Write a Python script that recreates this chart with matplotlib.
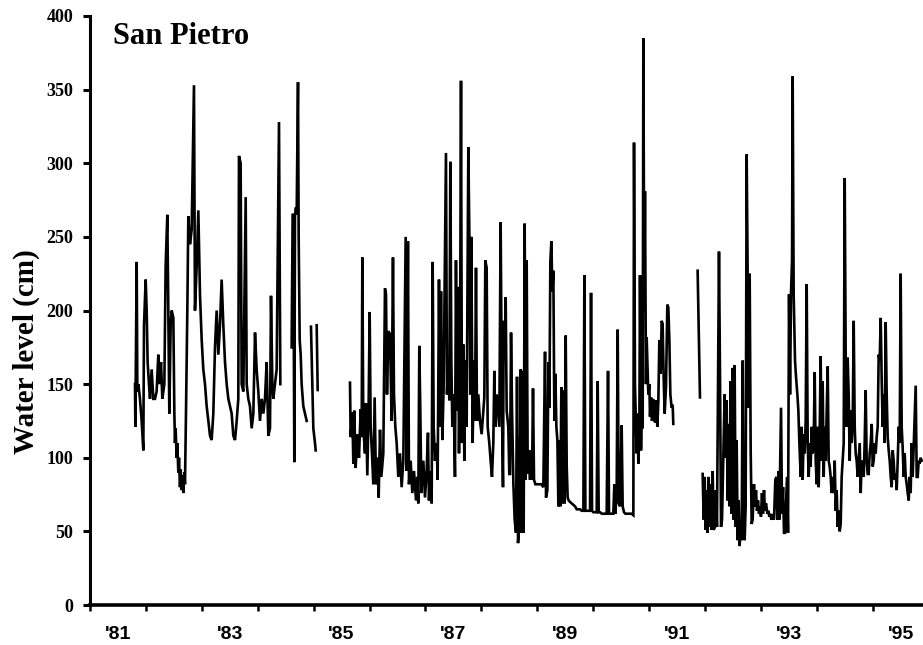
import numpy as np
import matplotlib
matplotlib.use("Agg")
import matplotlib.pyplot as plt
from matplotlib.ticker import FixedLocator, NullFormatter, FixedFormatter

# ---------------- data (decimal year, water level in cm) ----------------
seg1a_t = [1981.305, 1981.311, 1981.335, 1981.347, 1981.365, 1981.394, 1981.424, 1981.454, 1981.466,
           1981.496, 1981.514, 1981.531, 1981.555, 1981.573, 1981.603, 1981.633, 1981.663, 1981.692,
           1981.722, 1981.740, 1981.770, 1981.794, 1981.830, 1981.853, 1981.883, 1981.901, 1981.919,
           1981.943, 1981.961, 1981.991, 1982.009, 1982.020, 1982.032, 1982.050, 1982.062, 1982.080,
           1982.092, 1982.110, 1982.122, 1982.140, 1982.152, 1982.170, 1982.187, 1982.199, 1982.217,
           1982.241, 1982.259, 1982.289, 1982.319, 1982.360, 1982.378, 1982.408, 1982.438, 1982.468,
           1982.498, 1982.527, 1982.557, 1982.587, 1982.617, 1982.647, 1982.676, 1982.706, 1982.736,
           1982.766, 1982.796, 1982.825, 1982.855, 1982.885, 1982.915, 1982.945, 1982.975, 1983.034,
           1983.064, 1983.094, 1983.124, 1983.153, 1983.165, 1983.195, 1983.213, 1983.243, 1983.285,
           1983.303, 1983.332, 1983.362, 1983.392, 1983.422, 1983.452, 1983.481, 1983.511, 1983.541,
           1983.571, 1983.601, 1983.630, 1983.660, 1983.690, 1983.720, 1983.738, 1983.762, 1983.779,
           1983.809, 1983.839, 1983.881, 1983.905]
seg1a_v = [150, 121, 233, 145, 150, 140, 125, 105, 190,
           221, 200, 165, 150, 140, 160, 140, 140, 145,
           170, 150, 165, 140, 150, 230, 265, 200, 130,
           190, 200, 195, 130, 110, 120, 100, 110, 90,
           100, 80, 92, 78, 88, 76, 90, 82, 130,
           200, 264, 245, 255, 353, 200, 230, 268, 210,
           180, 160, 150, 135, 125, 115, 112, 130, 175,
           200, 170, 190, 221, 190, 165, 150, 140, 130,
           115, 112, 125, 140, 305, 300, 150, 145, 277,
           150, 140, 135, 120, 130, 185, 160, 145, 125,
           140, 130, 140, 165, 115, 120, 210, 150, 140,
           150, 160, 328, 150]

seg1b_t = [1984.107, 1984.125, 1984.137, 1984.155, 1984.167, 1984.185, 1984.197, 1984.221, 1984.233,
           1984.251, 1984.269, 1984.286, 1984.316, 1984.346, 1984.376]
seg1b_v = [175, 265, 265, 97, 265, 270, 265, 355, 250,
           180, 170, 150, 135, 130, 125]

seg1c_t = [1984.453, 1984.477, 1984.495, 1984.525, 1984.537]
seg1c_v = [189, 150, 120, 110, 105]

seg1d_t = [1984.555, 1984.573]
seg1d_v = [190, 146]

seg2_t = [1985.151, 1985.163, 1985.193, 1985.211, 1985.228, 1985.252, 1985.282, 1985.312, 1985.342,
          1985.360, 1985.372, 1985.389, 1985.419, 1985.437, 1985.461, 1985.485, 1985.503, 1985.521,
          1985.550, 1985.568, 1985.592, 1985.616, 1985.640, 1985.664, 1985.688, 1985.711, 1985.747,
          1985.777, 1985.795, 1985.813, 1985.837, 1985.866, 1985.896, 1985.920, 1985.938, 1985.962,
          1985.986, 1986.015, 1986.045, 1986.075, 1986.105, 1986.147, 1986.165, 1986.188, 1986.206,
          1986.236, 1986.266, 1986.296, 1986.332, 1986.355, 1986.373, 1986.391, 1986.409, 1986.427,
          1986.463, 1986.493, 1986.522, 1986.546, 1986.564, 1986.588, 1986.612, 1986.630, 1986.648,
          1986.671, 1986.701, 1986.719, 1986.743, 1986.761, 1986.779, 1986.803, 1986.826, 1986.850,
          1986.868, 1986.886, 1986.910, 1986.928, 1986.946, 1986.964, 1986.982, 1987.005, 1987.029,
          1987.047, 1987.065, 1987.083, 1987.101, 1987.119, 1987.137, 1987.154, 1987.178, 1987.196,
          1987.214, 1987.238, 1987.268, 1987.286, 1987.304, 1987.321, 1987.345, 1987.369, 1987.387,
          1987.405, 1987.423, 1987.447, 1987.476, 1987.506, 1987.536, 1987.554, 1987.572, 1987.596,
          1987.614, 1987.643, 1987.667, 1987.691, 1987.715, 1987.733, 1987.751, 1987.775, 1987.798,
          1987.822, 1987.846, 1987.870, 1987.888, 1987.900, 1987.918, 1987.936, 1987.954, 1987.983,
          1988.001,
          1988.014, 1988.032, 1988.050, 1988.074, 1988.097, 1988.121, 1988.139, 1988.157, 1988.181,
          1988.205, 1988.223, 1988.240, 1988.258, 1988.276, 1988.294, 1988.312, 1988.330, 1988.348,
          1988.372, 1988.390, 1988.407, 1988.425, 1988.443, 1988.467, 1988.503, 1988.539, 1988.574,
          1988.610, 1988.640, 1988.658, 1988.682, 1988.700, 1988.718, 1988.735, 1988.753, 1988.771,
          1988.789, 1988.807, 1988.825, 1988.843, 1988.861, 1988.879, 1988.896, 1988.914, 1988.932,
          1988.950, 1988.968, 1988.992, 1989.010, 1989.028, 1989.045, 1989.063, 1989.087, 1989.117,
          1989.147, 1989.177, 1989.206, 1989.236, 1989.266, 1989.296, 1989.326, 1989.344, 1989.362,
          1989.385, 1989.415, 1989.445, 1989.463, 1989.481, 1989.505, 1989.534, 1989.564, 1989.582,
          1989.600, 1989.624, 1989.654, 1989.684, 1989.713, 1989.743, 1989.767, 1989.785, 1989.803,
          1989.833, 1989.862, 1989.880, 1989.898, 1989.922, 1989.940, 1989.958, 1989.982, 1990.011,
          1990.029, 1990.053, 1990.077, 1990.101, 1990.131, 1990.161, 1990.190, 1990.220,
          1990.232, 1990.249, 1990.267, 1990.279, 1990.297, 1990.309, 1990.327, 1990.339, 1990.357,
          1990.375, 1990.387, 1990.399, 1990.416, 1990.428, 1990.446, 1990.458, 1990.476, 1990.488,
          1990.506, 1990.518, 1990.536, 1990.554, 1990.577, 1990.607, 1990.625, 1990.649, 1990.667,
          1990.685, 1990.709, 1990.726, 1990.744, 1990.762, 1990.780, 1990.804, 1990.828, 1990.846,
          1990.864, 1990.882, 1990.905, 1990.923, 1990.935]
seg2_v = [151, 114, 131, 96, 132, 93, 116, 100, 133,
          114, 236, 121, 103, 137, 88, 137, 199, 121,
          98, 82, 141, 82, 100, 73, 119, 87, 103,
          215, 211, 143, 186, 184, 125, 236, 143, 121,
          110, 87, 103, 80, 98, 250, 91, 247, 82,
          98, 76, 91, 71, 87, 69, 176, 132, 76,
          98, 73, 91, 117, 71, 91, 69, 233, 121,
          98, 110, 85, 221, 121, 213, 112, 148, 238,
          307, 143, 166, 139, 301, 166, 121, 143, 87,
          234, 132, 216, 103, 166, 356, 110, 177, 98,
          166, 121, 311, 252, 143, 250, 110, 166, 125,
          229, 125, 143, 125, 116, 132, 141, 234, 229,
          121, 110, 98, 87, 110, 159, 121, 143, 132,
          121, 260, 132, 80, 193, 166, 209, 132, 121,
          89,
          89, 185, 132, 82, 58, 49, 155, 42, 55,
          160, 49, 159, 49, 259, 85, 234, 89, 105,
          85, 105, 85, 147, 85, 82, 82, 82, 82,
          80, 172, 73, 78, 165, 134, 233, 247, 213,
          227, 125, 157, 121, 112, 67, 112, 67, 148,
          69, 146, 69, 183, 94, 73, 71, 70, 69,
          68, 67, 65, 65, 65, 64, 64, 224, 64,
          64, 64, 64, 212, 64, 63, 63, 63, 152,
          63, 63, 62, 62, 62, 62, 159, 62, 62,
          62, 62, 82, 62, 78, 187, 69, 67, 122,
          67, 63, 62, 62, 62, 62, 62, 61,
          314, 150, 120, 103, 130, 96, 115, 224, 105,
          150, 120, 385, 200, 281, 150, 182, 160, 143,
          150, 128, 141, 125, 140, 124, 139, 121, 138,
          180, 157, 193, 191, 155, 130, 148, 204, 202,
          180, 143, 134, 136, 123]

seg3_t = [1991.370, 1991.412]
seg3_v = [227, 141]

seg4_t = [1991.460, 1991.478, 1991.496, 1991.514, 1991.531, 1991.549, 1991.567, 1991.585, 1991.603,
          1991.621, 1991.639, 1991.657, 1991.681, 1991.698, 1991.716, 1991.734, 1991.752, 1991.770,
          1991.788, 1991.806, 1991.830, 1991.853, 1991.871, 1991.889, 1991.907, 1991.925, 1991.943,
          1991.961, 1991.979, 1991.997, 1992.014, 1992.032, 1992.050, 1992.068, 1992.086, 1992.104,
          1992.122, 1992.140, 1992.158, 1992.176, 1992.193, 1992.211, 1992.229, 1992.247, 1992.265,
          1992.283, 1992.301, 1992.319, 1992.337, 1992.354, 1992.378, 1992.396, 1992.414, 1992.432,
          1992.450, 1992.468, 1992.486, 1992.503, 1992.521, 1992.539, 1992.557, 1992.575, 1992.593,
          1992.617, 1992.635, 1992.652, 1992.670, 1992.688, 1992.712, 1992.736, 1992.760, 1992.778,
          1992.796, 1992.814, 1992.831,
          1992.862, 1992.880, 1992.898, 1992.915, 1992.933, 1992.951, 1992.969, 1992.987, 1993.005,
          1993.023, 1993.041, 1993.059, 1993.070, 1993.088, 1993.112, 1993.130, 1993.154, 1993.172,
          1993.190, 1993.214, 1993.231, 1993.249, 1993.267, 1993.285, 1993.303, 1993.321, 1993.339,
          1993.357, 1993.375, 1993.392, 1993.410, 1993.428, 1993.446, 1993.464, 1993.482, 1993.500,
          1993.518, 1993.536, 1993.553, 1993.571, 1993.589, 1993.607, 1993.625, 1993.643, 1993.661,
          1993.679, 1993.697, 1993.714, 1993.732, 1993.750, 1993.768, 1993.786, 1993.804, 1993.822,
          1993.840, 1993.858, 1993.875, 1993.893, 1993.911, 1993.929, 1993.947, 1993.965, 1993.983,
          1994.001, 1994.019, 1994.036, 1994.054, 1994.072, 1994.090, 1994.108, 1994.126, 1994.144,
          1994.162, 1994.180, 1994.197, 1994.215, 1994.233, 1994.251, 1994.269, 1994.287, 1994.305,
          1994.323, 1994.341, 1994.358, 1994.376, 1994.394, 1994.412, 1994.430, 1994.448, 1994.466,
          1994.484, 1994.502, 1994.519, 1994.537, 1994.555, 1994.573, 1994.591, 1994.609, 1994.627,
          1994.645, 1994.663, 1994.680, 1994.698, 1994.716, 1994.734, 1994.752, 1994.770, 1994.788,
          1994.806, 1994.824, 1994.841, 1994.859, 1994.877, 1994.895, 1994.913, 1994.931, 1994.949,
          1994.967, 1994.985, 1995.002, 1995.020, 1995.038, 1995.056, 1995.074, 1995.092, 1995.110,
          1995.128, 1995.146, 1995.163, 1995.181, 1995.199, 1995.217, 1995.235, 1995.253, 1995.271,
          1995.289, 1995.307, 1995.324, 1995.342, 1995.360, 1995.378]
seg4_v = [89, 58, 87, 51, 78, 49, 87, 53, 82,
          51, 91, 51, 53, 78, 53, 148, 240, 157,
          53, 58, 100, 143, 100, 139, 71, 123, 67,
          152, 62, 161, 58, 163, 53, 112, 44, 71,
          40, 58, 44, 166, 53, 44, 67, 306, 225,
          134, 225, 105, 55, 58, 82, 67, 78, 64,
          71, 62, 67, 60, 76, 62, 78, 64, 69,
          62, 64, 60, 62, 58, 60, 58, 85, 87,
          58, 91, 58,
          134, 62, 80, 49, 49, 69, 87, 49, 211,
          143, 213, 234, 359, 211, 166, 155, 143, 132,
          110, 87, 121, 85, 116, 103, 125, 218, 110,
          87, 110, 94, 121, 103, 110, 158, 98, 82,
          121, 80, 116, 169, 98, 152, 87, 121, 98,
          132, 162, 98, 94, 87, 76, 87, 76, 98,
          64, 78, 53, 64, 50, 55, 87, 98, 110,
          290, 166, 121, 168, 143, 98, 132, 110, 123,
          193, 121, 103, 98, 87, 98, 110, 76, 98,
          91, 87, 110, 146, 98, 89, 89, 103, 110,
          123, 94, 98, 110, 103, 114, 121, 170, 166,
          195, 152, 121, 143, 110, 192, 143, 114, 105,
          98, 87, 80, 105, 98, 85, 89, 78, 98,
          121, 110, 225, 121, 107, 87, 103, 87, 82,
          76, 71, 87, 76, 110, 87, 107, 128, 149,
          87, 87, 98, 96, 100, 98]

segments = [(seg1a_t, seg1a_v), (seg1b_t, seg1b_v), (seg1c_t, seg1c_v), (seg1d_t, seg1d_v),
            (seg2_t, seg2_v), (seg3_t, seg3_v), (seg4_t, seg4_v)]

year_labels = ["'81", "'83", "'85", "'87", "'89", "'91", "'93", "'95"]
label_years = [1981, 1983, 1985, 1987, 1989, 1991, 1993, 1995]
y_ticks = [0, 50, 100, 150, 200, 250, 300, 350, 400]

# ---------------- figure ----------------
W, H = 923, 645
fig = plt.figure(figsize=(W / 100, H / 100), dpi=100)
ax = fig.add_axes([90 / W, 1 - 605 / H, (W - 90) / W, (605 - 16) / H])

for t, v in segments:
    ax.plot(t, v, color='black', lw=1.9, solid_joinstyle='miter')

ax.set_xlim(1980.5, 1980.5 + (W - 90) / 55.9)
ax.set_ylim(0, 400)

for s in ['top', 'right']:
    ax.spines[s].set_visible(False)
ax.spines['left'].set_linewidth(2.2)
ax.spines['bottom'].set_linewidth(2.6)

# y ticks
ax.set_yticks(y_ticks)
ax.set_yticklabels([str(v) for v in y_ticks], fontfamily='Liberation Serif',
                   fontweight='bold', fontsize=13)
ax.tick_params(axis='y', direction='out', length=5, width=2.2, pad=7)

# x: tick marks at half years, labels at odd years
ax.xaxis.set_major_locator(FixedLocator([1980.5 + k for k in range(16)]))
ax.xaxis.set_major_formatter(NullFormatter())
ax.xaxis.set_minor_locator(FixedLocator(label_years))
ax.xaxis.set_minor_formatter(FixedFormatter(year_labels))
ax.tick_params(axis='x', which='major', direction='out', length=4, width=1.8)
ax.tick_params(axis='x', which='minor', length=0, pad=15)
for lab in ax.get_xticklabels(minor=True):
    lab.set_fontfamily(['Liberation Sans Narrow', 'Liberation Sans'])
    lab.set_fontweight('bold')
    lab.set_fontsize(14)

ax.set_ylabel('Water level (cm)', fontfamily='Liberation Serif', fontweight='bold',
              fontsize=21)
ax.yaxis.set_label_coords(-0.06, 0.43)

ax.text(0.028, 381, 'San Pietro', transform=ax.get_yaxis_transform(),
        fontfamily='Liberation Serif', fontweight='bold', fontsize=22,
        ha='left', va='baseline')

fig.savefig('out.png', dpi=100)
